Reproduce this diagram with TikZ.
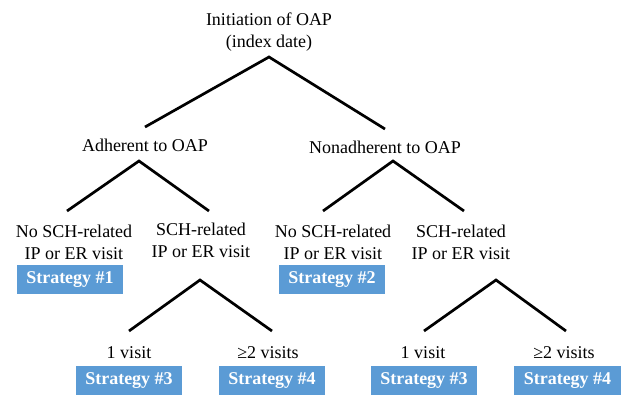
\documentclass[tikz,border=0pt]{standalone}
\usepackage{fontspec}
\setmainfont{Liberation Serif}
\definecolor{boxblue}{HTML}{5B9BD5}
\begin{document}
\begin{tikzpicture}[x=1pt,y=-1pt,
  lbl/.style={align=center,inner sep=0pt,font=\fontsize{18}{22}\selectfont},
  strat/.style={fill=boxblue,text=white,inner xsep=9.5pt,inner ysep=0pt,minimum height=29pt,font=\fontsize{18}{22}\selectfont\bfseries},
  branch/.style={line width=2.7pt,line cap=butt,line join=miter}]
\useasboundingbox (0,0) rectangle (627,394);
% labels
\node[lbl] (root) at (269,32) {Initiation of OAP\\(index date)};
\node[lbl] (adh) at (145,145) {Adherent to OAP};
\node[lbl] (non) at (385,147) {Nonadherent to OAP};
\node[lbl] (a1) at (74,242) {No SCH-related\\IP or ER visit};
\node[lbl] (a2) at (201,240) {SCH-related\\IP or ER visit};
\node[lbl] (n1) at (333,242.5) {No SCH-related\\IP or ER visit};
\node[lbl] (n2) at (461,242) {SCH-related\\IP or ER visit};
\node[lbl] (v1) at (129,353) {1 visit};
\node[lbl] (v2) at (268,353) {≥2 visits};
\node[lbl] (v3) at (423,353) {1 visit};
\node[lbl] (v4) at (564,353) {≥2 visits};
% strategy boxes
\node[strat] (s1) at (70,279.5) {Strategy \#1};
\node[strat] (s2) at (332,279.5) {Strategy \#2};
\node[strat] (s3) at (129,380.5) {Strategy \#3};
\node[strat] (s4) at (272,380.5) {Strategy \#4};
\node[strat] (s5) at (424,380.5) {Strategy \#3};
\node[strat] (s6) at (567.5,380.5) {Strategy \#4};
% branch points
\coordinate (rootTop) at (269,57);
\coordinate (rootL) at (145,127);
\coordinate (rootR) at (385,129);
\coordinate (adhTop) at (139,161);
\coordinate (adhL) at (67,211);
\coordinate (adhR) at (209,211);
\coordinate (nonTop) at (393,161);
\coordinate (nonL) at (323,211);
\coordinate (nonR) at (464,211);
\coordinate (a2Top) at (200,280);
\coordinate (a2L) at (129,331);
\coordinate (a2R) at (272,331);
\coordinate (n2Top) at (496,280);
\coordinate (n2L) at (424,331);
\coordinate (n2R) at (566,331);
% branches
\draw[branch] (rootL) -- (rootTop) -- (rootR);
\draw[branch] (adhL) -- (adhTop) -- (adhR);
\draw[branch] (nonL) -- (nonTop) -- (nonR);
\draw[branch] (a2L) -- (a2Top) -- (a2R);
\draw[branch] (n2L) -- (n2Top) -- (n2R);
\end{tikzpicture}
\end{document}
